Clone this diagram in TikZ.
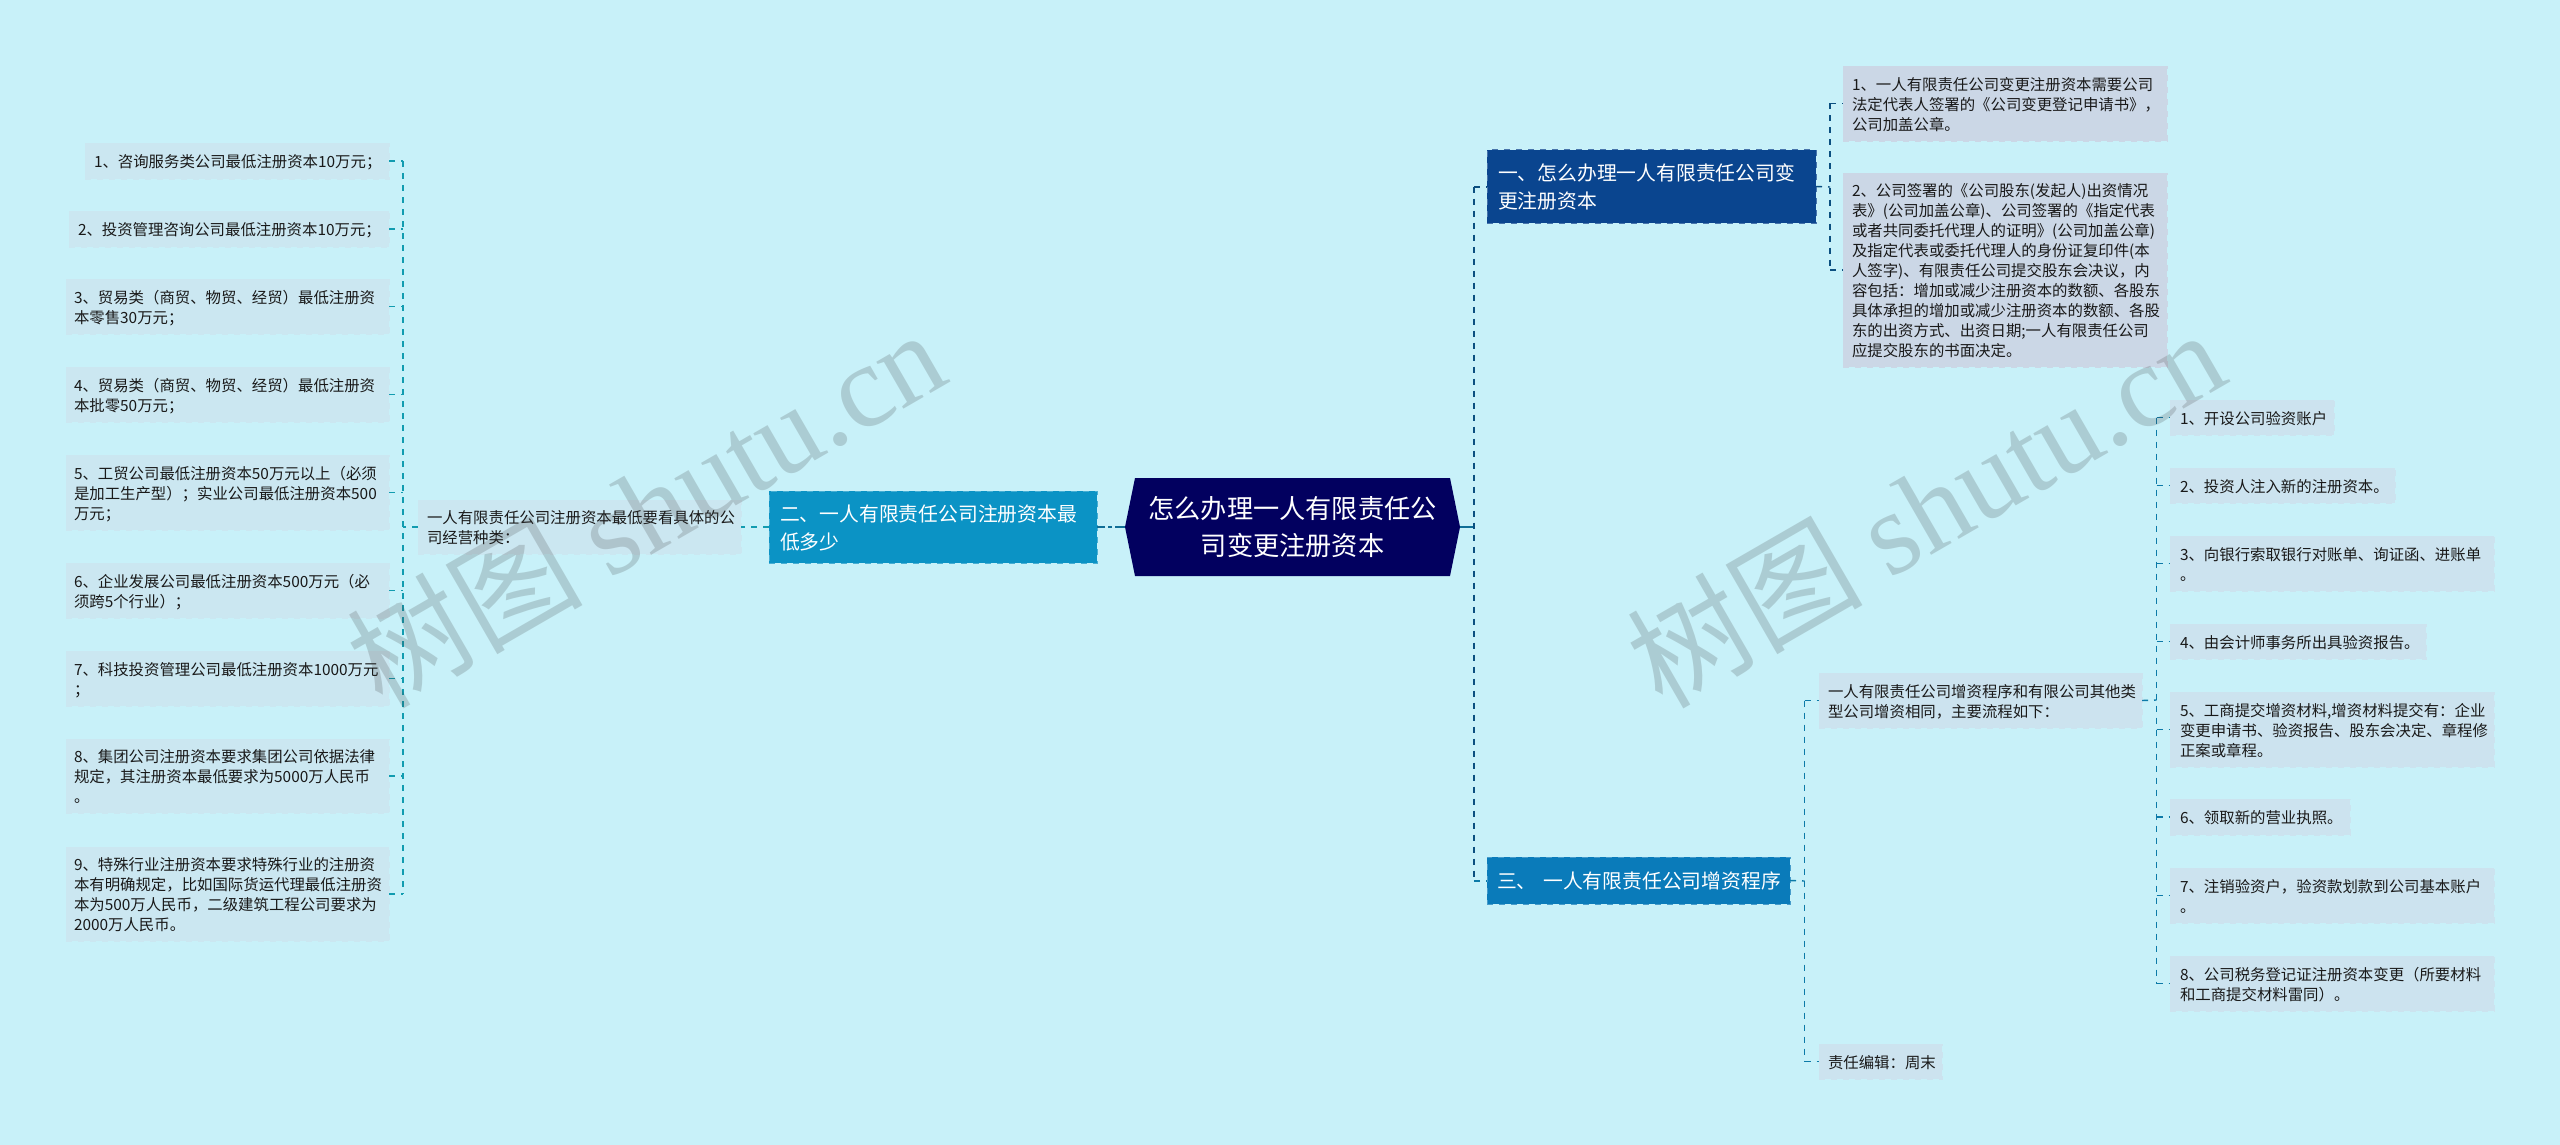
\documentclass[tikz,border=0pt]{standalone}
\usepackage{fontspec}
\setmainfont{Noto Sans CJK SC}
\newfontfamily\wmlat{Liberation Serif}
\definecolor{bgc}{HTML}{C8F1F9}
\definecolor{hubc}{HTML}{02005F}
\definecolor{bonec}{HTML}{0A458F}
\definecolor{btwoc}{HTML}{0B93C5}
\definecolor{bthrc}{HTML}{0A7BBA}
\definecolor{leafa}{HTML}{CBD7E6}
\definecolor{leafb}{HTML}{CCE3EF}
\definecolor{leafc}{HTML}{CBE7F1}
\definecolor{conhub}{HTML}{0F6E96}
\definecolor{conone}{HTML}{0B4F80}
\definecolor{conthr}{HTML}{0C7AA8}
\definecolor{contwo}{HTML}{129CB0}
\tikzset{
  x=0.5pt,y=-0.5pt,
  boxbase/.style={anchor=north west,inner ysep=0pt,outer sep=0pt,align=left},
  leafstyle/.style={boxbase,fill=#1,draw=#1,line width=0.3pt,dashed,
     text=black!90,font=\fontsize{7.7pt}{10pt}\selectfont},
  branchstyle/.style={boxbase,fill=#1,draw=#1!75!white,line width=0.5pt,dashed,
     text=white,font=\fontsize{9.9pt}{14pt}\selectfont},
  hubtext/.style={text=white,align=center,inner sep=0pt,outer sep=0pt,
     font=\fontsize{13.1pt}{18.5pt}\selectfont},
  conn/.style={line width=0.7pt,dash pattern=on 3pt off 3pt},
  wm/.style={rotate=30,text=black!77,opacity=0.2,inner sep=0pt,
     font=\fontsize{59pt}{59pt}\selectfont}
}
% name, x1, y1, x2, y2, style, text, left padding in px
\newcommand\bx[8][9]{%
  \pgfmathsetmacro\bxw{(#4-#2)*0.5}%
  \pgfmathsetmacro\bxh{(#5-#3)*0.5}%
  \pgfmathsetmacro\bxp{#1*0.5}%
  \node[#6,minimum height=\bxh pt,inner xsep=0pt,text width=\bxw pt] (#7) at (#2,#3)
    {\hspace*{\bxp pt}\raisebox{-1.4pt}[\height][\depth]{\begin{tabular}{@{}l@{}}#8\end{tabular}}};%
}
\begin{document}
\begin{tikzpicture}
\useasboundingbox (0,0) rectangle (2560,1145);
\fill[bgc] (0,0) rectangle (2560,1145);

% central topic
\fill[hubc] (1125,527) -- (1135,478) -- (1450,478) -- (1460,527) -- (1450,576) -- (1135,576) -- cycle;
\node[hubtext,minimum width=167.5pt] (hub) at (1292.5,527) {怎么办理一人有限责任公\\司变更注册资本};

% branches
\bx[11]{1487}{150}{1816}{223}{branchstyle=bonec}{bone}{一、怎么办理一人有限责任公司变\\更注册资本}
\bx[11]{769}{491}{1097}{563}{branchstyle=btwoc}{btwo}{二、一人有限责任公司注册资本最\\低多少}
\bx[10]{1487}{857}{1790}{904}{branchstyle=bthrc}{bthr}{三、 一人有限责任公司增资程序}

% branch one leaves
\bx{1843}{66}{2167}{141}{leafstyle=leafa}{oa}{1、一人有限责任公司变更注册资本需要公司\\法定代表人签署的《公司变更登记申请书》，\\公司加盖公章。}
\bx{1843}{173}{2167}{367}{leafstyle=leafa}{ob}{2、公司签署的《公司股东(发起人)出资情况\\表》(公司加盖公章)、公司签署的《指定代表\\或者共同委托代理人的证明》(公司加盖公章)\\及指定代表或委托代理人的身份证复印件(本\\人签字)、有限责任公司提交股东会决议，内\\容包括：增加或减少注册资本的数额、各股东\\具体承担的增加或减少注册资本的数额、各股\\东的出资方式、出资日期;一人有限责任公司\\应提交股东的书面决定。}

% branch three
\bx{1819}{673}{2142}{728}{leafstyle=leafb}{ta}{一人有限责任公司增资程序和有限公司其他类\\型公司增资相同，主要流程如下：}
\bx{1819}{1044}{1942}{1079}{leafstyle=leafb}{te}{责任编辑：周末}
\bx[10]{2170}{400}{2334}{435}{leafstyle=leafb}{ka}{1、开设公司验资账户}
\bx[10]{2170}{468}{2395}{503}{leafstyle=leafb}{kb}{2、投资人注入新的注册资本。}
\bx[10]{2170}{536}{2494}{591}{leafstyle=leafb}{kc}{3、向银行索取银行对账单、询证函、进账单\\。}
\bx[10]{2170}{624}{2426}{659}{leafstyle=leafb}{kd}{4、由会计师事务所出具验资报告。}
\bx[10]{2170}{692}{2494}{767}{leafstyle=leafb}{ke}{5、工商提交增资材料,增资材料提交有：企业\\变更申请书、验资报告、股东会决定、章程修\\正案或章程。}
\bx[10]{2170}{799}{2350}{835}{leafstyle=leafb}{kf}{6、领取新的营业执照。}
\bx[10]{2170}{868}{2494}{923}{leafstyle=leafb}{kg}{7、注销验资户，验资款划款到公司基本账户\\。}
\bx[10]{2170}{956}{2494}{1011}{leafstyle=leafb}{kh}{8、公司税务登记证注册资本变更（所要材料\\和工商提交材料雷同）。}

% branch two
\bx{418}{500}{741}{554}{leafstyle=leafc}{wa}{一人有限责任公司注册资本最低要看具体的公\\司经营种类：}
\bx{85}{143}{389}{179}{leafstyle=leafc}{la}{1、咨询服务类公司最低注册资本10万元；}
\bx{69}{211}{389}{247}{leafstyle=leafc}{lb}{2、投资管理咨询公司最低注册资本10万元；}
\bx[8]{66}{279}{389}{334}{leafstyle=leafc}{lc}{3、贸易类（商贸、物贸、经贸）最低注册资\\本零售30万元；}
\bx[8]{66}{367}{389}{422}{leafstyle=leafc}{ld}{4、贸易类（商贸、物贸、经贸）最低注册资\\本批零50万元；}
\bx[8]{66}{455}{389}{530}{leafstyle=leafc}{le}{5、工贸公司最低注册资本50万元以上（必须\\是加工生产型）；实业公司最低注册资本500\\万元；}
\bx[8]{66}{563}{389}{618}{leafstyle=leafc}{lf}{6、企业发展公司最低注册资本500万元（必\\须跨5个行业）；}
\bx[8]{66}{651}{389}{706}{leafstyle=leafc}{lg}{7、科技投资管理公司最低注册资本1000万元\\；}
\bx[8]{66}{739}{389}{813}{leafstyle=leafc}{lh}{8、集团公司注册资本要求集团公司依据法律\\规定，其注册资本最低要求为5000万人民币\\。}
\bx[8]{66}{847}{389}{941}{leafstyle=leafc}{li}{9、特殊行业注册资本要求特殊行业的注册资\\本有明确规定，比如国际货运代理最低注册资\\本为500万人民币，二级建筑工程公司要求为\\2000万人民币。}

% connector junctions
\coordinate (hubR) at (1460,527);
\coordinate (hubL) at (1125,527);
\coordinate (spR) at (1474,527);
\coordinate (spO) at (1830,187);
\coordinate (spT) at (1804.5,881);
\coordinate (spK) at (2156.5,700);
\coordinate (spL) at (403,527);

% hub connectors
\draw[conhub,line width=1pt] (hubR) -- (spR);
\draw[conhub,line width=1pt,dash pattern=on 5pt off 1.5pt on 2pt off 1.5pt] (hubL) -- (btwo.east |- hubL);
\draw[conone,conn,line width=1pt] (spR |- bone.west) -- (spR |- bthr.west);
\draw[conone,conn,line width=1pt] (spR |- bone.west) -- (bone.west);
\draw[conthr,conn,line width=1pt] (spR |- bthr.west) -- (bthr.west);

% branch one
\draw[conone,conn] (spO |- oa.west) -- (spO |- ob.west);
\draw[conone,conn] (bone.east) -- (spO);
\draw[conone,conn] (spO |- oa.west) -- (oa.west);
\draw[conone,conn] (spO |- ob.west) -- (ob.west);

% branch three
\draw[conthr,conn] (spT |- ta.west) -- (spT |- te.west);
\draw[conthr,conn] (bthr.east) -- (spT);
\draw[conthr,conn] (spT |- ta.west) -- (ta.west);
\draw[conthr,conn] (spT |- te.west) -- (te.west);
\draw[conthr,conn] (ta.east) -- (spK);
\draw[conthr,conn] (spK |- ka.west) -- (spK |- kh.west);
\foreach \n in {ka,kb,kc,kd,ke,kf,kg,kh}{\draw[conthr,conn] (spK |- \n.west) -- (\n.west);}

% branch two
\draw[contwo,conn] (btwo.west) -- (wa.east);
\draw[contwo,conn] (wa.west) -- (spL);
\draw[contwo,conn] (spL |- la.east) -- (spL |- li.east);
\foreach \n in {la,lb,lc,ld,le,lf,lg,lh,li}{\draw[contwo,conn] (\n.east) -- (spL |- \n.east);}

% watermarks
\node[wm] (wmL) at (645,507) {树图 {\wmlat shutu.cn}};
\node[wm] (wmR) at (1925,507) {树图 {\wmlat shutu.cn}};
\end{tikzpicture}
\end{document}
